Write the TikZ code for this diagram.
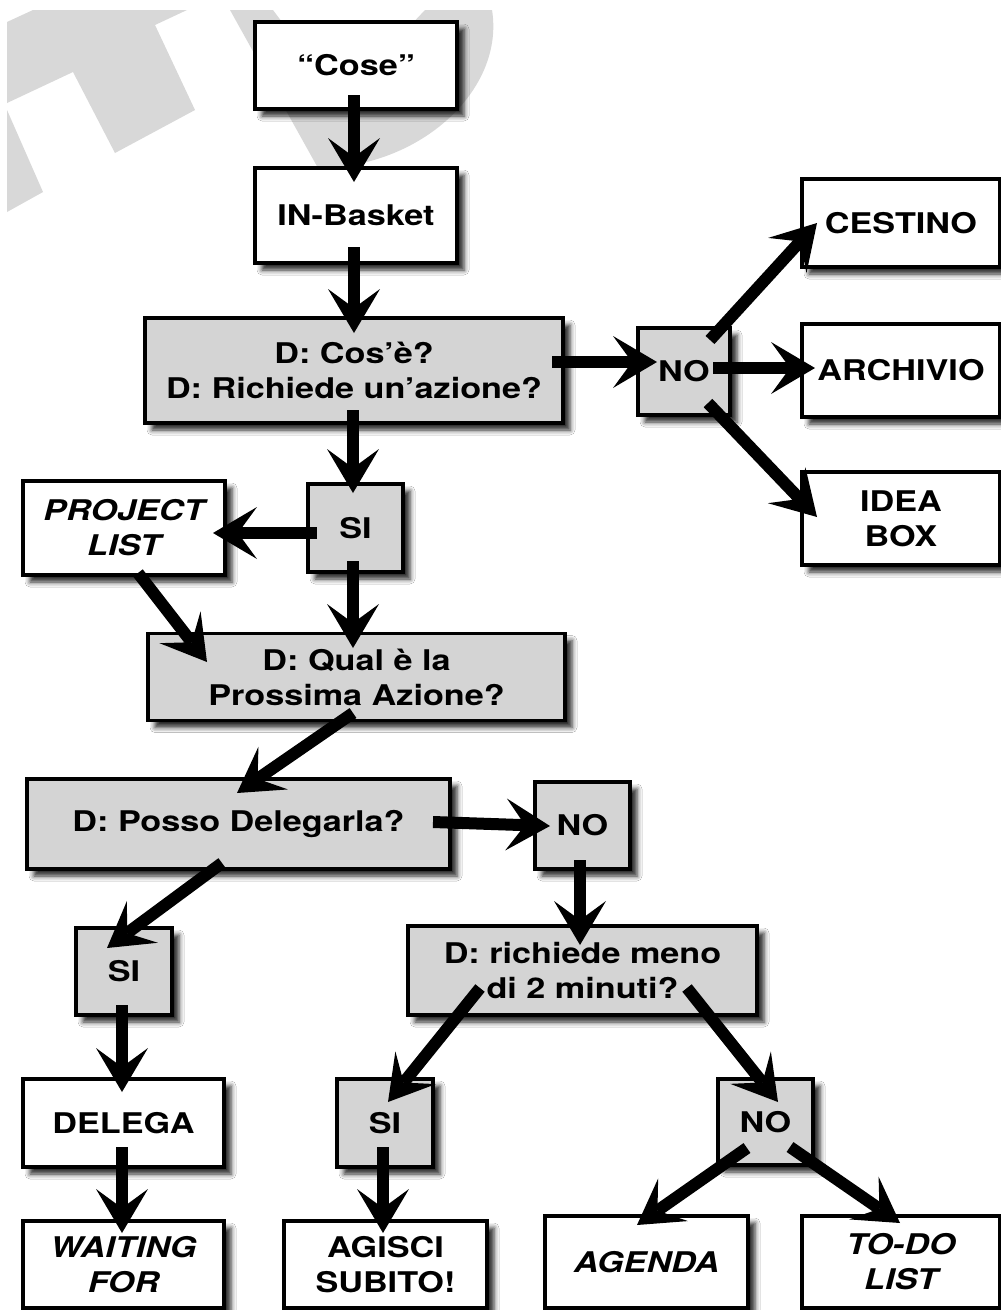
\documentclass[tikz,border=0pt]{standalone}
\usepackage{fontspec}
\setmainfont{TeX Gyre Heros}[FakeStretch=1.2]
\usetikzlibrary{arrows.meta,shadows.blur,calc}
\definecolor{boxgray}{RGB}{212,212,212}
\definecolor{wmgray}{RGB}{216,216,216}
\begin{document}
\begin{tikzpicture}[x=1pt,y=-1pt,
  box/.style={draw=black, line width=3.5pt, fill=white, inner sep=0pt, align=center,
     font=\fontsize{28.5}{35}\selectfont\bfseries,
     blur shadow={shadow xshift=7pt, shadow yshift=-7pt, shadow blur radius=5pt, shadow opacity=85}},
  dbox/.style={box, fill=boxgray},
  arr/.style={line width=12pt, -{Stealth[length=44pt,width=52pt,inset=19pt,line width=0pt]}}]
\useasboundingbox (0,0) rectangle (1001,1310);
\fill[white] (0,0) rectangle (1001,1310);
% watermark
\fill[wmgray] (7,22) -- (33,10) -- (187,10) -- (155,25) -- (195,110) -- (115,153) -- (73,72) -- (7,103) -- cycle;
\fill[wmgray] (7,110) -- (43,192) -- (7,212) -- cycle;
\fill[wmgray] (230,10) -- (273,10) -- (340,100) -- (425,10) -- (492,10) .. controls (505,90) and (420,168) .. (318,168) -- cycle;
% nodes
\node[box, minimum width=202pt, minimum height=87pt] (cose) at (356,65.5) {“Cose”};
\node[box, minimum width=202pt, minimum height=95pt] (inb) at (356,215.5) {IN-Basket};
\node[dbox, minimum width=418pt, minimum height=105pt] (cos) at (354,370.5) {D: Cos’è?\\D: Richiede un’azione?};
\node[dbox, minimum width=92pt, minimum height=87pt] (no1) at (684,371.5) {NO};
\node[box, minimum width=198pt, minimum height=88pt] (cest) at (901,223) {CESTINO};
\node[box, minimum width=198pt, minimum height=93pt] (arch) at (901,370.5) {ARCHIVIO};
\node[box, minimum width=198pt, minimum height=93pt] (idea) at (901,518.5) {IDEA\\BOX};
\node[dbox, minimum width=95pt, minimum height=88pt] (si1) at (355.5,528) {SI};
\node[box, minimum width=202pt, minimum height=94pt] (proj) at (124,528) {\itshape PROJECT\\\itshape LIST};
\node[dbox, minimum width=417pt, minimum height=87pt] (qual) at (356.5,677) {D: Qual è la\\Prossima Azione?};
\node[dbox, minimum width=423pt, minimum height=90pt] (posso) at (238.5,824) {D: Posso Delegarla?};
\node[dbox, minimum width=95pt, minimum height=87pt] (no2) at (582.5,825.5) {NO};
\node[dbox, minimum width=349pt, minimum height=89pt] (rich) at (582.5,970.5) {D: richiede meno\\di 2 minuti?};
\node[dbox, minimum width=96pt, minimum height=87pt] (si2) at (124,971.5) {SI};
\node[box, minimum width=201pt, minimum height=88pt] (del) at (123.5,1123) {DELEGA};
\node[dbox, minimum width=96pt, minimum height=88pt] (si3) at (385,1123) {SI};
\node[dbox, minimum width=95pt, minimum height=86pt] (no3) at (765.5,1122) {NO};
\node[box, minimum width=201pt, minimum height=87pt] (wait) at (123.5,1264.5) {\itshape WAITING\\\itshape FOR};
\node[box, minimum width=203pt, minimum height=87pt] (agis) at (385.5,1264.5) {AGISCI\\SUBITO!};
\node[box, minimum width=203pt, minimum height=92pt] (agen) at (646.5,1262) {\itshape AGENDA};
\node[box, minimum width=198pt, minimum height=92pt] (todo) at (901,1262) {\itshape TO-DO\\\itshape LIST};
% connectors
\draw[arr] ($(cose.center)+(-2,29.5)$) -- ($(inb.center)+(-2,-33.5)$);
\draw[arr] ($(inb.center)+(-2,31.5)$) -- ($(cos.center)+(0,-37.5)$);
\draw[arr] ($(cos.center)+(198,-8.5)$) -- ($(no1.center)+(-27,-9.5)$);
\draw[arr] ($(no1.center)+(26,-31.5)$) -- ($(cest.center)+(-84,0)$);
\draw[arr] ($(no1.center)+(29,-3.5)$) -- ($(arch.center)+(-86,-2.5)$);
\draw[arr] ($(no1.center)+(24,31.5)$) -- ($(idea.center)+(-84,-1.5)$);
\draw[arr] ($(cos.center)+(-1,39.5)$) -- ($(si1.center)+(-2.5,-35)$);
\draw[arr] ($(si1.center)+(-38.5,5)$) -- ($(proj.center)+(89,5)$);
\draw[arr] ($(si1.center)+(-2.5,33)$) -- ($(qual.center)+(-3.5,-29)$);
\draw[arr] ($(proj.center)+(14,45)$) -- ($(qual.center)+(-149.5,-15)$);
\draw[arr] ($(qual.center)+(-3.5,36)$) -- ($(posso.center)+(-1.5,-31)$);
\draw[arr] ($(posso.center)+(194.5,-2)$) -- ($(no2.center)+(-32.5,0.5)$);
\draw[arr] ($(posso.center)+(-16.5,39)$) -- ($(si2.center)+(-17,-23.5)$);
\draw[arr] ($(no2.center)+(-2.5,34.5)$) -- ($(rich.center)+(-2.5,-25.5)$);
\draw[arr] ($(si2.center)+(-2,33.5)$) -- ($(del.center)+(-1.5,-31)$);
\draw[arr] ($(rich.center)+(-102.5,17.5)$) -- ($(si3.center)+(3,-21)$);
\draw[arr] ($(rich.center)+(104.5,17.5)$) -- ($(no3.center)+(12.5,-20)$);
\draw[arr] ($(del.center)+(-1.5,24)$) -- ($(wait.center)+(-1.5,-31.5)$);
\draw[arr] ($(si3.center)+(-2,24)$) -- ($(agis.center)+(-2.5,-31.5)$);
\draw[arr] ($(no3.center)+(-18.5,26)$) -- ($(agen.center)+(-9.5,-37)$);
\draw[arr] ($(no3.center)+(24.5,25)$) -- ($(todo.center)+(-1,-39)$);
\end{tikzpicture}
\end{document}
